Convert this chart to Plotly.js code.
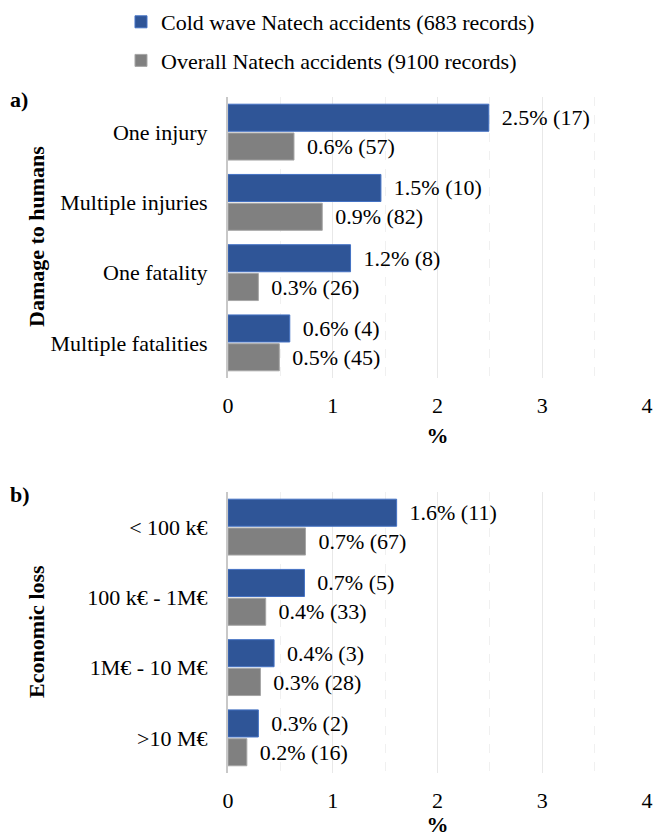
<!DOCTYPE html>
<html>
<head>
<meta charset="utf-8">
<script src="https://cdn.plot.ly/plotly-3.0.1.min.js"></script>
<style>html,body{margin:0;padding:0;background:#fff;}#chart{width:654px;height:837px;}</style>
</head>
<body>
<div id="chart"></div>
<script>
// ---- data ----
const seriesNames = ["Cold wave Natech accidents (683 records)", "Overall Natech accidents (9100 records)"];

const humanCategories = ["One injury", "Multiple injuries", "One fatality", "Multiple fatalities"];
const humanCold = [2.49, 1.46, 1.17, 0.59];
const humanColdLabels = ["2.5% (17)", "1.5% (10)", "1.2% (8)", "0.6% (4)"];
const humanOverall = [0.63, 0.90, 0.29, 0.49];
const humanOverallLabels = ["0.6% (57)", "0.9% (82)", "0.3% (26)", "0.5% (45)"];

const lossCategories = ["< 100 k€", "100 k€ - 1M€", "1M€ - 10 M€", ">10 M€"];
const lossCold = [1.61, 0.73, 0.44, 0.29];
const lossColdLabels = ["1.6% (11)", "0.7% (5)", "0.4% (3)", "0.3% (2)"];
const lossOverall = [0.74, 0.36, 0.31, 0.18];
const lossOverallLabels = ["0.7% (67)", "0.4% (33)", "0.3% (28)", "0.2% (16)"];

const xTickVals = [0, 1, 2, 3, 4];
const xTickText = ["0", "1", "2", "3", "4"];

// ---- styling ----
const FONT = "Liberation Serif";
const FS = 22;
const BLUE = "#2F5597";
const BLUE_LINE = "#4472C4";
const GREY = "#808080";
const GREY_LINE = "#A6A6A6";
const pad = s => "\u00a0\u2009" + s;

function barTrace(cats, vals, labels, name, color, lineColor, xa, ya, showLegend, group) {
  return {
    type: "bar", orientation: "h",
    y: cats, x: vals,
    text: labels.map(pad),
    textposition: "outside",
    cliponaxis: false,
    textfont: {family: FONT, size: FS, color: "#000"},
    marker: {color: color, line: {color: lineColor, width: 1}},
    name: name, legendgroup: group, showlegend: showLegend,
    xaxis: xa, yaxis: ya, hoverinfo: "skip"
  };
}

const data = [
  barTrace(humanCategories, humanCold, humanColdLabels, seriesNames[0], BLUE, BLUE_LINE, "x", "y", true, "cold"),
  barTrace(humanCategories, humanOverall, humanOverallLabels, seriesNames[1], GREY, GREY_LINE, "x", "y", true, "overall"),
  barTrace(lossCategories, lossCold, lossColdLabels, seriesNames[0], BLUE, BLUE_LINE, "x2", "y2", false, "cold"),
  barTrace(lossCategories, lossOverall, lossOverallLabels, seriesNames[1], GREY, GREY_LINE, "x2", "y2", false, "overall")
];

function xAxis(domain, anchor, standoff) {
  return {
    domain: domain, anchor: anchor, range: [0, 4],
    tickvals: xTickVals, ticktext: xTickText,
    showgrid: true, gridcolor: "#E8E8E8", gridwidth: 1,
    minor: {dtick: 0.5, tick0: 0, showgrid: true, gridcolor: "#F0F0F0", griddash: "dash", gridwidth: 1},
    zeroline: false, showline: false, ticks: "",
    ticklabelstandoff: 12,
    tickfont: {family: FONT, size: FS, color: "#000"},
    title: {text: "<b>%</b>", font: {family: FONT, size: FS, color: "#000"}, standoff: standoff},
    fixedrange: true
  };
}
function yAxis(domain, anchor) {
  return {
    domain: domain, anchor: anchor, type: "category", autorange: "reversed",
    showgrid: false, zeroline: false,
    showline: true, linecolor: "#C8C8C8", linewidth: 2,
    ticks: "", ticklabelstandoff: 14,
    tickfont: {family: FONT, size: FS, color: "#000"},
    fixedrange: true
  };
}

const layout = {
  width: 654, height: 837,
  margin: {l: 0, r: 0, t: 0, b: 0},
  paper_bgcolor: "#fff", plot_bgcolor: "#fff",
  font: {family: FONT, size: FS, color: "#000"},
  barmode: "group", bargap: 0.18, bargroupgap: 0.06,
  xaxis: xAxis([0.3486, 0.9893], "y", 10),
  yaxis: yAxis([0.5484, 0.8841], "x"),
  xaxis2: xAxis([0.3486, 0.9893], "y2", 5),
  yaxis2: yAxis([0.0765, 0.4122], "x2"),
  legend: {
    orientation: "v", x: 0.185, xanchor: "left", y: 1 - 1/837, yanchor: "top",
    bgcolor: "rgba(0,0,0,0)", font: {family: FONT, size: FS, color: "#000"},
    tracegroupgap: 7, itemclick: false, itemdoubleclick: false
  },
  annotations: [
    {text: "<b>a)</b>", xref: "paper", yref: "paper", x: 0.012, y: 1 - 100/837, xanchor: "left", yanchor: "middle", showarrow: false, font: {family: FONT, size: FS, color: "#000"}},
    {text: "<b>b)</b>", xref: "paper", yref: "paper", x: 0.012, y: 1 - 494/837, xanchor: "left", yanchor: "middle", showarrow: false, font: {family: FONT, size: FS, color: "#000"}},
    {text: "<b>Damage to humans</b>", xref: "paper", yref: "paper", x: 36/654, y: 1 - 237/837, xanchor: "center", yanchor: "middle", textangle: -90, showarrow: false, font: {family: FONT, size: FS, color: "#000"}},
    {text: "<b>Economic loss</b>", xref: "paper", yref: "paper", x: 36/654, y: 1 - 632/837, xanchor: "center", yanchor: "middle", textangle: -90, showarrow: false, font: {family: FONT, size: FS, color: "#000"}}
  ],
  showlegend: true
};

Plotly.newPlot("chart", data, layout, {displayModeBar: false, staticPlot: true});
</script>
</body>
</html>
